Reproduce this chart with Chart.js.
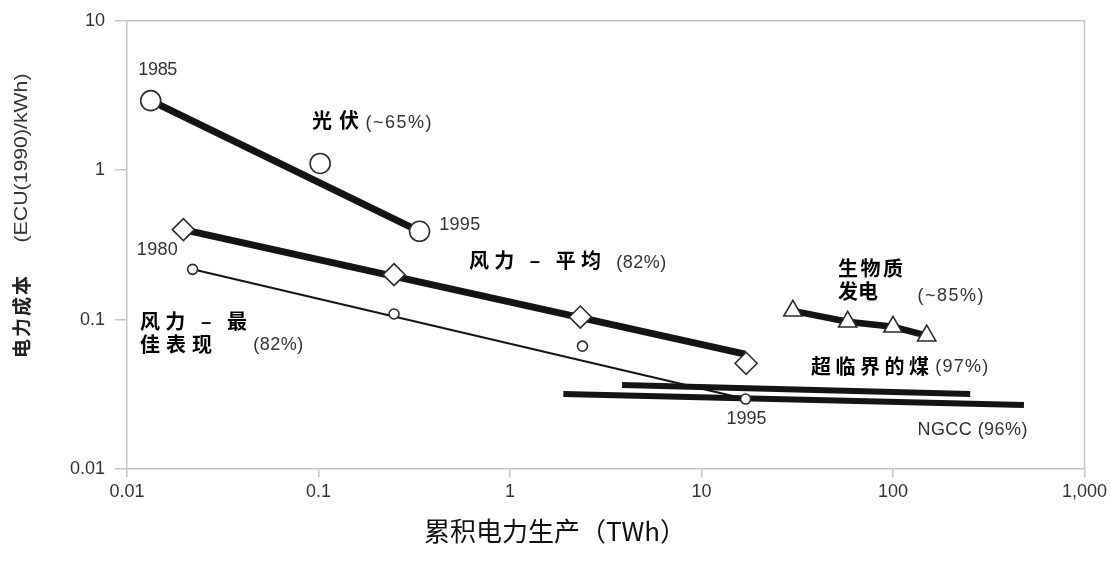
<!DOCTYPE html>
<html>
<head>
<meta charset="utf-8">
<script src="https://cdn.jsdelivr.net/npm/chart.js@4.4.1/dist/chart.umd.min.js"></script>
<style>
  html, body { margin: 0; padding: 0; background: #ffffff; }
  #wrap { width: 1111px; height: 565px; }
</style>
</head>
<body>
<div id="wrap"><canvas id="c" width="1111" height="565"></canvas></div>
<script>
// Cumulative electricity production (TWh) vs. cost (ECU(1990)/kWh)

// Photovoltaics
const pvX = [0.0133, 0.102, 0.337];
const pvY = [2.92, 1.11, 0.39];
const pvTrendX = [0.0133, 0.337];
const pvTrendY = [2.92, 0.39];

// Wind, average
const windAvgX = [0.0197, 0.248, 2.33, 17.1];
const windAvgY = [0.40, 0.20, 0.104, 0.051];
const windAvgTrendX = [0.0197, 16.9];
const windAvgTrendY = [0.40, 0.0587];

// Wind, best performance
const windBestX = [0.022, 0.248, 2.39, 17.0];
const windBestY = [0.217, 0.109, 0.0664, 0.0294];
const windBestTrendX = [0.022, 17.0];
const windBestTrendY = [0.217, 0.0294];

// Biomass power
const bioX = [30, 58, 100, 150];
const bioY = [0.1145, 0.0967, 0.0895, 0.078];

// Supercritical coal and NGCC
const coalX = [3.85, 253];
const coalY = [0.0365, 0.0318];
const ngccX = [1.9, 483];
const ngccY = [0.0318, 0.0268];

// Axis ticks
const xTicks = [0.01, 0.1, 1, 10, 100, 1000];
const xTickLabels = ['0.01', '0.1', '1', '10', '100', '1,000'];
const yTicks = [0.01, 0.1, 1, 10];
const yTickLabels = ['0.01', '0.1', '1', '10'];

const pts = (xs, ys) => xs.map((x, i) => ({ x: x, y: ys[i] }));

const INK = '#141414';
const AXIS = '#c6c6c6';
const NUM_FONT = '"Liberation Sans", Arial, sans-serif';
const CJK_FONT = '"Noto Sans CJK SC", sans-serif';

// Text notes placed in data space; w = span of the text in pixels
const notes = [
  { t: '1985', x: 0.01449, y: 4.713, k: 'num', a: 'center', w: 39 },
  { t: '光伏', x: 0.0924, y: 2.154, k: 'cjk', w: 47 },
  { t: '(~65%)', x: 0.1762, y: 2.058, k: 'num', w: 66 },
  { t: '1995', x: 0.4268, y: 0.4266, k: 'num', w: 41 },
  { t: '1980', x: 0.0144, y: 0.2906, k: 'num', a: 'center', w: 41 },
  { t: '风力 – 平均', x: 0.6109, y: 0.2474, k: 'cjk', w: 132 },
  { t: '(82%)', x: 3.585, y: 0.2399, k: 'num', w: 50 },
  { t: '风力 – 最', x: 0.01168, y: 0.0970, k: 'cjk', w: 107 },
  { t: '佳表现', x: 0.01168, y: 0.0687, k: 'cjk', w: 72 },
  { t: '(82%)', x: 0.04564, y: 0.0671, k: 'num', w: 50 },
  { t: '生物质', x: 51.57, y: 0.2205, k: 'cjk', w: 65 },
  { t: '发电', x: 51.57, y: 0.1537, k: 'cjk', w: 40 },
  { t: '(~85%)', x: 134.2, y: 0.1445, k: 'num', w: 66 },
  { t: '超临界的煤', x: 37.35, y: 0.0486, k: 'cjk', w: 118 },
  { t: '(97%)', x: 166.4, y: 0.0479, k: 'num', w: 53 },
  { t: '1995', x: 17.17, y: 0.02172, k: 'num', a: 'center', w: 40 },
  { t: 'NGCC (96%)', x: 134.2, y: 0.01834, k: 'num', w: 110 }
];

const notesPlugin = {
  id: 'notes',
  afterDatasetsDraw(chart) {
    const ctx = chart.ctx;
    const xs = chart.scales.x, ys = chart.scales.y;
    ctx.save();
    ctx.textBaseline = 'middle';
    notes.forEach(n => {
      if (n.k === 'cjk') {
        ctx.font = 'bold 20px ' + CJK_FONT;
        ctx.fillStyle = '#000';
      } else {
        ctx.font = '18px ' + NUM_FONT;
        ctx.fillStyle = '#333';
      }
      ctx.letterSpacing = '0px';
      const count = Array.from(n.t).length;
      const m = ctx.measureText(n.t).width;
      const sp = Math.max(-1, (n.w - m) / Math.max(1, count - 1));
      ctx.letterSpacing = sp.toFixed(2) + 'px';
      let px = xs.getPixelForValue(n.x);
      ctx.textAlign = 'left';
      if (n.a === 'center') px -= n.w / 2;
      ctx.fillText(n.t, px, ys.getPixelForValue(n.y));
    });
    ctx.restore();
  }
};

// Frame on top/right edges plus the axis titles
const framePlugin = {
  id: 'frame',
  afterDraw(chart) {
    const ctx = chart.ctx;
    const a = chart.chartArea;
    ctx.save();
    ctx.strokeStyle = AXIS;
    ctx.lineWidth = 1.5;
    ctx.beginPath();
    ctx.moveTo(a.left, a.top);
    ctx.lineTo(a.right, a.top);
    ctx.lineTo(a.right, a.bottom);
    ctx.stroke();

    // y title, rotated
    ctx.translate(22, 0);
    ctx.rotate(-Math.PI / 2);
    ctx.textBaseline = 'middle';
    ctx.textAlign = 'center';
    ctx.font = 'bold 19px ' + CJK_FONT;
    ctx.fillStyle = '#222';
    ctx.letterSpacing = '2px';
    ctx.fillText('电力成本', -316, 0);
    ctx.letterSpacing = '0px';
    ctx.font = '19px ' + NUM_FONT;
    ctx.fillStyle = '#333';
    const unit = '(ECU(1990)/kWh)';
    const w = ctx.measureText(unit).width;
    ctx.save();
    ctx.translate(-158, 0);
    ctx.scale(169 / w, 1);
    ctx.fillText(unit, 0, 0);
    ctx.restore();
    ctx.restore();

    // x title
    ctx.save();
    ctx.font = '26px ' + CJK_FONT;
    ctx.fillStyle = '#111';
    ctx.textAlign = 'center';
    ctx.textBaseline = 'middle';
    ctx.fillText('累积电力生产（TWh）', 555, 531);
    ctx.restore();
  }
};

const lineSet = (xs, ys, width) => ({
  data: pts(xs, ys),
  showLine: true,
  borderColor: INK,
  borderWidth: width,
  pointRadius: 0,
  order: 2
});

const markerSet = (xs, ys, style, radius) => ({
  data: pts(xs, ys),
  showLine: false,
  pointStyle: style,
  pointRadius: radius,
  pointBackgroundColor: '#ffffff',
  pointBorderColor: '#2b2b2b',
  pointBorderWidth: 1.6,
  order: 1
});

new Chart(document.getElementById('c'), {
  type: 'scatter',
  data: {
    datasets: [
      markerSet(pvX, pvY, 'circle', 10),
      markerSet(windAvgX, windAvgY, 'rectRot', 11),
      markerSet(windBestX, windBestY, 'circle', 5),
      markerSet(bioX, bioY, 'triangle', 10.5),
      lineSet(pvTrendX, pvTrendY, 7),
      lineSet(windAvgTrendX, windAvgTrendY, 7),
      lineSet(windBestTrendX, windBestTrendY, 2),
      lineSet(bioX, bioY, 6.5),
      lineSet(coalX, coalY, 6),
      lineSet(ngccX, ngccY, 6)
    ]
  },
  options: {
    responsive: false,
    animation: false,
    devicePixelRatio: 1,
    layout: { padding: { top: 19, right: 21, left: 0, bottom: 0 } },
    plugins: { legend: { display: false }, tooltip: { enabled: false } },
    scales: {
      x: {
        type: 'logarithmic',
        min: 0.01,
        max: 1000,
        afterBuildTicks: s => { s.ticks = xTicks.map(v => ({ value: v })); },
        afterFit: s => { s.height = 96; },
        ticks: {
          autoSkip: false,
          maxRotation: 0,
          padding: 4,
          color: '#333',
          font: { family: NUM_FONT, size: 18 },
          callback: (v, i) => xTickLabels[i]
        },
        grid: { drawOnChartArea: false, drawTicks: true, tickLength: 8, color: AXIS, lineWidth: 1.5 },
        border: { color: AXIS, width: 1.5 }
      },
      y: {
        type: 'logarithmic',
        min: 0.01,
        max: 10,
        afterBuildTicks: s => { s.ticks = yTicks.map(v => ({ value: v })); },
        afterFit: s => { s.width = 127; },
        ticks: {
          padding: 10,
          color: '#333',
          font: { family: NUM_FONT, size: 18 },
          callback: (v, i) => yTickLabels[i]
        },
        grid: { drawOnChartArea: false, drawTicks: true, tickLength: 12, color: AXIS, lineWidth: 1.5 },
        border: { color: AXIS, width: 1.5 }
      }
    }
  },
  plugins: [notesPlugin, framePlugin]
});
</script>
</body>
</html>
